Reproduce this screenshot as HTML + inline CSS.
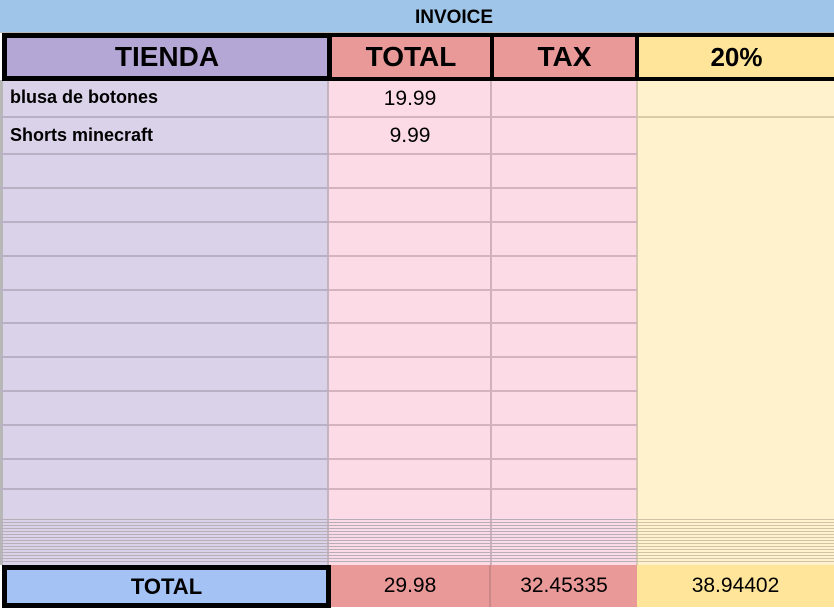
<!DOCTYPE html>
<html><head><style>
body{margin:0;width:834px;height:609px;overflow:hidden;background:#fff;font-family:"Liberation Sans",Arial,sans-serif;position:relative}
div{position:absolute;box-sizing:border-box}
.c{display:flex;align-items:center;justify-content:center}
</style></head><body>
<div style="left:0;top:0;width:834px;height:33px;background:#9fc5e8;border-bottom:1px solid #bbb"></div>
<div class="c" style="left:300px;top:5px;width:308px;height:26px;font-weight:bold;font-size:19px">INVOICE</div>
<div style="left:0;top:80px;width:329px;height:485px;background:#d9d2e9;border-left:3px solid #b7b7b7"></div>
<div style="left:329px;top:80px;width:308px;height:485px;background:#fcdbe6"></div>
<div style="left:637px;top:80px;width:197px;height:485px;background:#fff2cc"></div>
<div style="left:327px;top:80px;width:2px;height:485px;background:#c4b4c0"></div>
<div style="left:490px;top:80px;width:2px;height:485px;background:#d0b0bb"></div>
<div style="left:636px;top:80px;width:2px;height:485px;background:#d6c7b0"></div>
<div id="rows"></div>
<div style="left:0;top:519px;width:637px;height:44px;background:repeating-linear-gradient(to bottom,#b8aeb8 0,#b8aeb8 1px,transparent 1px,transparent 3px)"></div>
<div style="left:637px;top:519px;width:197px;height:44px;background:repeating-linear-gradient(to bottom,#cfc3a8 0,#cfc3a8 1px,transparent 1px,transparent 3px)"></div>
<div class="c" style="left:2px;top:33px;width:330px;height:48px;background:#b4a7d6;border:5px solid #000;font-weight:bold;font-size:28px">TIENDA</div>
<div class="c" style="left:328px;top:33px;width:166px;height:48px;background:#ea9999;border:4px solid #000;font-weight:bold;font-size:28px">TOTAL</div>
<div class="c" style="left:490px;top:33px;width:149px;height:48px;background:#ea9999;border:4px solid #000;font-weight:bold;font-size:28px">TAX</div>
<div class="c" style="left:635px;top:33px;width:199px;height:48px;background:#ffe599;border:4px solid #000;border-right:none;font-weight:bold;font-size:26px">20%</div>
<div style="left:10px;top:87px;font-weight:bold;font-size:18px">blusa de botones</div>
<div style="left:10px;top:125px;font-weight:bold;font-size:18px">Shorts minecraft</div>
<div class="c" style="left:329px;top:84px;width:162px;height:30px;font-size:21px">19.99</div>
<div class="c" style="left:329px;top:121px;width:162px;height:30px;font-size:21px">9.99</div>
<div class="c" style="left:2px;top:565px;width:329px;height:43px;background:#a4c2f4;border:5px solid #000;font-weight:bold;font-size:22px">TOTAL</div>
<div class="c" style="left:331px;top:565px;width:160px;height:42px;background:#ea9999;font-size:21px;border-right:2px solid #c88">29.98</div>
<div class="c" style="left:491px;top:565px;width:146px;height:42px;background:#ea9999;font-size:21px">32.45335</div>
<div class="c" style="left:637px;top:565px;width:197px;height:42px;background:#ffe599;font-size:21px">38.94402</div>
<script>
var ys=[116,153,187,221,255,289,322,356,390,424,458,488];
var h='';
ys.forEach(function(y,i){
 h+='<div style="left:0;top:'+y+'px;width:329px;height:2px;background:#b9b0c4"></div>';
 h+='<div style="left:329px;top:'+y+'px;width:308px;height:2px;background:#d4b3be"></div>';
 if(i==0)h+='<div style="left:637px;top:'+y+'px;width:197px;height:2px;background:#d8cba8"></div>';
});
document.getElementById('rows').outerHTML=h;
</script>
</body></html>
